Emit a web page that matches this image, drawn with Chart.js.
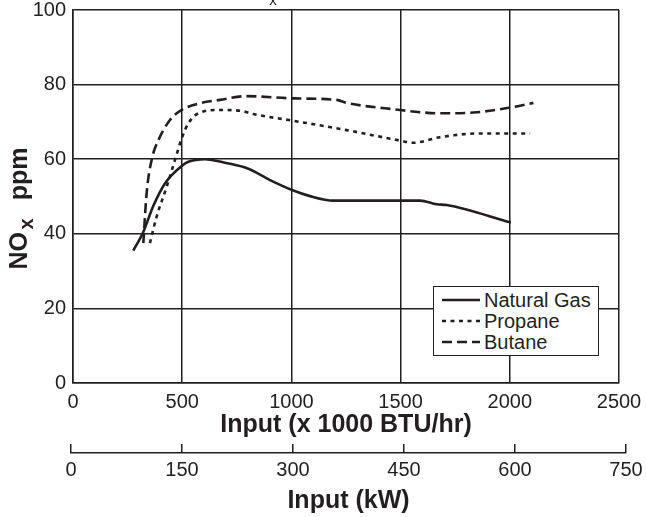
<!DOCTYPE html>
<html>
<head>
<meta charset="utf-8">
<script src="https://cdn.jsdelivr.net/npm/chart.js@4.4.0/dist/chart.umd.min.js"></script>
<style>
    body { margin: 0; background: #fff; }
    #wrap { position: relative; width: 646px; height: 517px; font-family: 'Liberation Sans', Arial, sans-serif; color: #231f20; }
    #main { position: absolute; left: 0; top: 0; }
    #kw { position: absolute; left: 0; top: 434px; }
    #legend { position: absolute; left: 433px; top: 286px; width: 166px; height: 70px; border: 1.5px solid #231f20; background: #fff; box-sizing: border-box; padding-top: 2px; }
    .row { display: flex; align-items: center; height: 21px; }
    .row svg { margin-left: 8px; margin-right: 4px; }
    .row span { font-size: 20px; line-height: 20px; }
</style>
</head>
<body>
<div id="wrap">
    <canvas id="main" width="646" height="440"></canvas>
    <canvas id="kw" width="646" height="83"></canvas>
    <div id="legend"></div>
</div>
<script>
// ข้อมูลของกราฟ (อ่านค่าจากรูป)
const seriesNames = ['Natural Gas', 'Propane', 'Butane'];

const gasX = [276, 322, 368, 421, 498, 528, 604, 700, 800, 902, 1009, 1085, 1192, 1589, 1665, 1711, 2005];
const gasY = [35.5, 40.5, 47.5, 53.5, 58.2, 59.3, 60, 59, 57.5, 54.4, 51.6, 50.1, 48.9, 48.9, 47.9, 47.7, 43];

const propaneX = [352, 383, 429, 467, 498, 528, 581, 673, 765, 826, 1009, 1253, 1497, 1558, 1680, 1864, 2093];
const propaneY = [37.5, 44.6, 52.6, 59.8, 65.6, 69.6, 72.5, 73.2, 73, 72.1, 70.3, 67.8, 65, 64.4, 65.9, 66.9, 66.9];

const butaneX = [322, 337, 360, 391, 444, 498, 581, 673, 795, 1009, 1207, 1253, 1497, 1589, 1680, 1833, 2005, 2108];
const butaneY = [37.5, 50.8, 59.8, 65.1, 70.5, 73.2, 75, 75.9, 76.9, 76.3, 75.9, 75.1, 73.2, 72.6, 72.3, 72.5, 73.9, 75.1];

const btuTicks = [0, 500, 1000, 1500, 2000, 2500];
const ppmTicks = [0, 20, 40, 60, 80, 100];
const kwTicks = [0, 150, 300, 450, 600, 750];

const ink = '#231f20';
const fontFamily = "'Liberation Sans', Arial, sans-serif";
const lineStyles = [[], [4, 4.5], [10, 5]];

function toPoints(xs, ys) {
    return xs.map((x, i) => ({ x: x, y: ys[i] }));
}

const allSeries = [toPoints(gasX, gasY), toPoints(propaneX, propaneY), toPoints(butaneX, butaneY)];

function fixedTicks(values) {
    return function(scale) {
        scale.ticks = values.map(v => ({ value: v }));
    };
}

function plainLabel(v) {
    return String(v);
}

// ชื่อแกน y แบบมีตัวห้อย (NOx ppm) + ตัว x ที่เหลือจากชื่อกราฟด้านบน
const extraText = {
    id: 'extraText',
    afterDraw(chart) {
        let ctx = chart.ctx;
        let area = chart.chartArea;
        ctx.save();
        ctx.fillStyle = ink;

        // ชื่อกราฟด้านบนถูกตัด เหลือแค่ตัวห้อย x
        ctx.font = '15px ' + fontFamily;
        ctx.textAlign = 'center';
        ctx.textBaseline = 'alphabetic';
        ctx.fillText('x', 273, 5);

        // ชื่อแกน y
        let big = 'bold 25px ' + fontFamily;
        let small = 'bold 20px ' + fontFamily;
        ctx.font = big;
        let wNO = ctx.measureText('NO').width;
        let wPpm = ctx.measureText('ppm').width;
        ctx.font = small;
        let wX = ctx.measureText('x').width;
        let total = wNO + 2.5 + wX + 18 + wPpm;
        let cy = (area.top + area.bottom) / 2 + 12;

        ctx.translate(26.7, cy);
        ctx.rotate(-Math.PI / 2);
        ctx.textAlign = 'left';
        let pos = -total / 2;
        ctx.font = big;
        ctx.fillText('NO', pos, 0);
        pos += wNO + 2.5;
        ctx.font = small;
        ctx.fillText('x', pos, 6);
        pos += wX + 18;
        ctx.font = big;
        ctx.fillText('ppm', pos, 0);
        ctx.restore();
    }
};

let mainChart = new Chart(document.getElementById('main').getContext('2d'), {
    type: 'line',
    data: {
        datasets: allSeries.map((pts, i) => ({
            label: seriesNames[i],
            data: pts,
            borderColor: ink,
            borderWidth: 2.6,
            borderDash: lineStyles[i],
            pointRadius: 0,
            cubicInterpolationMode: 'monotone',
            fill: false
        }))
    },
    options: {
        responsive: false,
        animation: false,
        layout: { padding: { top: 10, right: 27, bottom: 2.5, left: 0 } },
        plugins: { legend: { display: false }, tooltip: { enabled: false } },
        scales: {
            x: {
                type: 'linear',
                min: 0,
                max: 2500,
                afterBuildTicks: fixedTicks(btuTicks),
                afterFit: function(scale) {
                    scale.height = 54.5;
                    scale.paddingLeft = 0;
                    scale.paddingRight = 0;
                },
                ticks: { padding: 9, color: ink, callback: plainLabel, font: { family: fontFamily, size: 20, lineHeight: 1 } },
                grid: { color: ink, lineWidth: 1.5, drawTicks: false },
                border: { color: ink, width: 1.5 },
                title: {
                    display: true,
                    text: 'Input (x 1000 BTU/hr)',
                    color: ink,
                    font: { family: fontFamily, size: 25, weight: 'bold', lineHeight: 1 },
                    padding: { top: 0, bottom: 0 }
                }
            },
            y: {
                min: 0,
                max: 100,
                afterBuildTicks: fixedTicks(ppmTicks),
                afterFit: function(scale) {
                    scale.width = 73;
                    scale.paddingTop = 0;
                    scale.paddingBottom = 0;
                },
                ticks: { padding: 7, color: ink, callback: plainLabel, font: { family: fontFamily, size: 20, lineHeight: 1 } },
                grid: { color: ink, lineWidth: 1.5, drawTicks: false },
                border: { color: ink, width: 1.5 },
                title: { display: false }
            }
        }
    },
    plugins: [extraText]
});

// แกน kW ด้านล่าง
let kwChart = new Chart(document.getElementById('kw').getContext('2d'), {
    type: 'line',
    data: { datasets: [] },
    options: {
        responsive: false,
        animation: false,
        layout: { padding: { top: 10, right: 20, bottom: 3, left: 71 } },
        plugins: { legend: { display: false }, tooltip: { enabled: false } },
        scales: {
            x: {
                type: 'linear',
                min: 0,
                max: 750,
                afterBuildTicks: fixedTicks(kwTicks),
                afterFit: function(scale) {
                    scale.height = 61;
                    scale.paddingLeft = 0;
                    scale.paddingRight = 0;
                },
                ticks: { padding: 7, color: ink, callback: plainLabel, font: { family: fontFamily, size: 20, lineHeight: 1 } },
                grid: { color: ink, lineWidth: 1.5, drawTicks: false },
                border: { color: ink, width: 1.5 },
                title: {
                    display: true,
                    text: 'Input (kW)',
                    color: ink,
                    font: { family: fontFamily, size: 25, weight: 'bold', lineHeight: 1 },
                    padding: { top: 0, bottom: 0 }
                }
            },
            y: { display: false, min: 0, max: 1 }
        }
    }
});

// legend แบบ HTML
let legendBox = document.getElementById('legend');
seriesNames.forEach((name, i) => {
    let row = document.createElement('div');
    row.className = 'row';
    let dash = lineStyles[i].length ? lineStyles[i].join(',') : 'none';
    row.innerHTML = '<svg width="38" height="6"><line x1="0" y1="3" x2="38" y2="3" stroke="' + ink +
        '" stroke-width="2.6" stroke-dasharray="' + dash + '"/></svg><span>' + name + '</span>';
    legendBox.appendChild(row);
});
</script>
</body>
</html>
